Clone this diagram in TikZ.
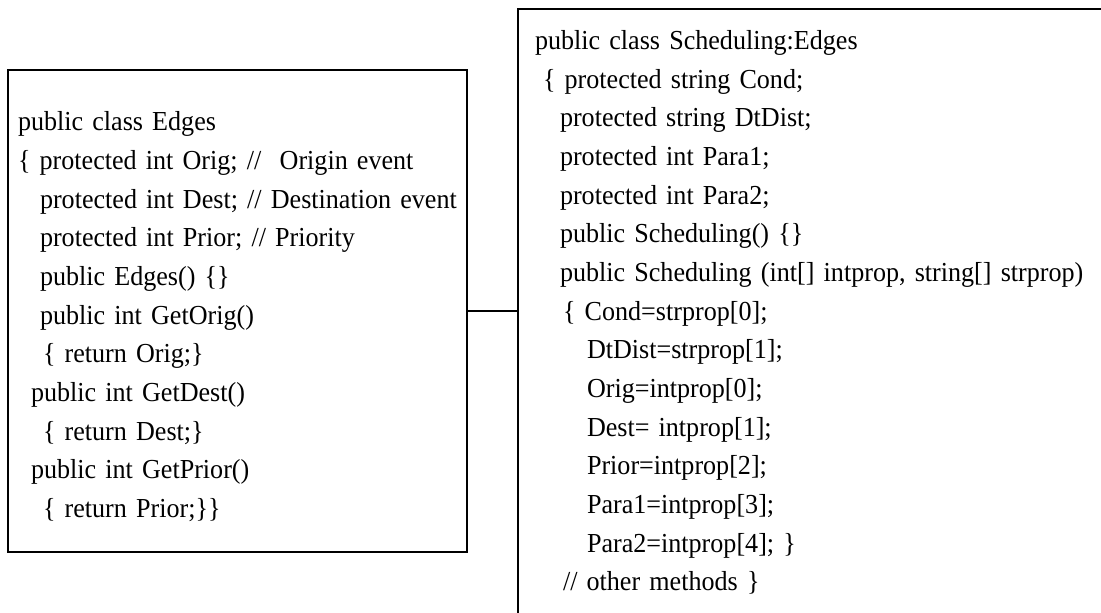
\documentclass[tikz,border=0pt]{standalone}
\usepackage{fontspec}
\setmainfont[FakeStretch=0.95]{Liberation Serif}

\begin{document}
\begin{tikzpicture}[x=0.75pt,y=-0.75pt,
  classbox/.style={draw,line width=1.8pt,align=left,inner ysep=0pt,
    font=\fontsize{20.6}{29}\selectfont}]

  \useasboundingbox (0,0) rectangle (1101,613);
  \clip (0,0) rectangle (1101,613);

  \node[classbox,text width=329.25pt,inner xsep=7.5pt,minimum height=361.5pt]
    (edges) at (237.5,311) {\rule{0pt}{23pt}public class Edges\\
\{ protected int Orig; //~~Origin event\\
\hspace*{16.5pt}protected int Dest; // Destination event\\
\hspace*{16.5pt}protected int Prior; // Priority\\
\hspace*{16.5pt}public Edges() \{\}\\
\hspace*{16.5pt}public int GetOrig()\\
\hspace*{18.75pt}\{ return Orig;\}\\
\hspace*{9.75pt}public int GetDest()\\
\hspace*{18.75pt}\{ return Dest;\}\\
\hspace*{9.75pt}public int GetPrior()\\
\hspace*{18.75pt}\{ return Prior;\}\}};

  \node[classbox,text width=422.25pt,inner xsep=12.75pt,minimum height=455.25pt]
    (sched) at (816.5,312.5) {public class Scheduling:Edges\\
\hspace*{6pt}\{ protected string Cond;\\
\hspace*{18.75pt}protected string DtDist;\\
\hspace*{18.75pt}protected int Para1;\\
\hspace*{18.75pt}protected int Para2;\\
\hspace*{18.75pt}public Scheduling() \{\}\\
\hspace*{18.75pt}public Scheduling (int[] intprop, string[] strprop)\\
\hspace*{21pt}\{~Cond=strprop[0];\\
\hspace*{39pt}DtDist=strprop[1];\\
\hspace*{39pt}Orig=intprop[0];\\
\hspace*{39pt}Dest= intprop[1];\\
\hspace*{39pt}Prior=intprop[2];\\
\hspace*{39pt}Para1=intprop[3];\\
\hspace*{39pt}Para2=intprop[4]; \}\\
\hspace*{21pt}// other methods \}};

  \draw[line width=1.5pt] (edges.east) -- (edges.east -| sched.west);

\end{tikzpicture}
\end{document}
